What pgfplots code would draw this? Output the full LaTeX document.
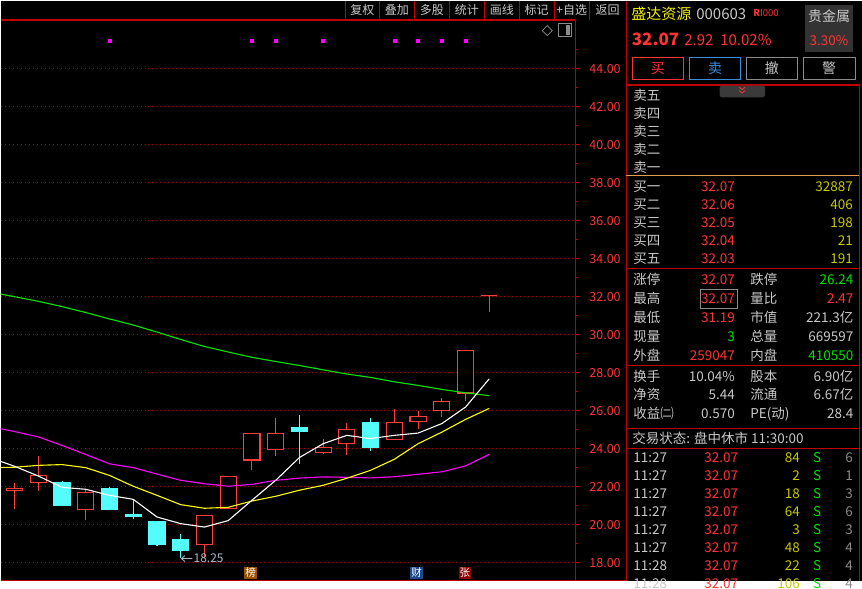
\documentclass[border=0pt]{standalone}
\usepackage{pgfplots}
\pgfplotsset{compat=1.18}
\usepackage{fontspec}
\setmainfont{Noto Sans CJK SC}
\newcommand\fs[1]{\fontsize{#1bp}{#1bp}\selectfont}
\definecolor{lred}{HTML}{C00000}
\definecolor{gridred}{HTML}{B00000}
\definecolor{tred}{HTML}{FF3333}
\definecolor{tgray}{HTML}{C8C8C8}
\definecolor{tgreen}{HTML}{00E000}
\definecolor{tyel}{HTML}{C8C800}
\definecolor{ttitle}{HTML}{F0F000}
\definecolor{ccyan}{HTML}{54FCFC}
\definecolor{cred}{HTML}{FF3C3C}
\definecolor{orange1}{HTML}{E0A050}
\definecolor{btnblue}{HTML}{3C8CDC}
\definecolor{btngray}{HTML}{8A8A8A}
\definecolor{boxgray}{HTML}{333333}
\definecolor{tabgray}{HTML}{3A3A3A}
\definecolor{maG}{HTML}{00E800}
\definecolor{maM}{HTML}{FF00FF}
\definecolor{maY}{HTML}{FFFF00}
\definecolor{tagbrown}{HTML}{9A5200}
\definecolor{tagblue}{HTML}{1C4A8C}
\definecolor{tagred}{HTML}{8C0000}
\definecolor{lowc}{HTML}{A8B8C8}
\pgfplotsset{
  cR/.style={draw=cred, fill=black, line width=1.1bp},
  cC/.style={draw=ccyan, fill=ccyan, line width=1.1bp},
}
\begin{document}
\begin{tikzpicture}
\begin{scope}[x=1bp,y=-1bp]
\useasboundingbox (0,0) rectangle (862,581);
\fill[black] (0,0) rectangle (862,581);
\end{scope}

\begin{axis}[
  at={(0bp,-20bp)}, anchor=north west,
  scale only axis, width=575bp, height=560bp,
  xmin=-0.589, xmax=23.62, ymin=17.068, ymax=46.542,
  axis x line=none, axis y line*=right,
  y axis line style={draw=lred, line width=1.2bp},
  xtick=\empty,
  ytick={18,20,...,44},
  yticklabels={18.00,20.00,22.00,24.00,26.00,28.00,30.00,32.00,34.00,36.00,38.00,40.00,42.00,44.00},
  minor ytick={19,21,...,45},
  tick align=outside, major tick length=5bp, minor tick length=3bp,
  every tick/.style={lred, line width=1bp},
  ymajorgrids,
  major grid style={gridred, line width=0.9bp, dash pattern=on 1bp off 3bp},
  yticklabel style={text=tred, font=\fs{12.5}, anchor=east, xshift=44bp},
  clip=true,
]
% wicks (high, low)
\addplot[cred, line width=1.1bp, unbounded coords=jump] coordinates {
(0,22.21)(0,20.82)(0,nan)
(1,23.63)(1,21.77)(1,nan)
(3,21.81)(3,20.24)(3,nan)
(8,20.47)(8,18.30)(8,nan)
(10,24.79)(10,22.89)(10,nan)
(11,25.63)(11,23.61)(11,nan)
(13,24.49)(13,23.74)(13,nan)
(14,25.33)(14,23.66)(14,nan)
(16,26.07)(16,24.47)(16,nan)
(17,26.00)(17,25.02)(17,nan)
(18,26.65)(18,25.66)(18,nan)
(19,29.15)(19,26.51)(19,nan)
(20,32.07)(20,31.19)};
\addplot[ccyan, line width=1.1bp, unbounded coords=jump] coordinates {
(2,22.29)(2,20.96)(2,nan)
(4,21.96)(4,20.80)(4,nan)
(5,21.32)(5,20.29)(5,nan)
(6,20.19)(6,18.87)(6,nan)
(7,19.49)(7,18.25)(7,nan)
(12,25.75)(12,23.19)(12,nan)
(15,25.59)(15,23.87)};
% bodies (open, close)
\addplot[cR] coordinates {(0,21.81)(0.34,21.81)(0.34,21.89)(-0.34,21.89)(-0.34,21.81)(0,21.81)};
\addplot[cR] coordinates {(1,22.21)(1.34,22.21)(1.34,22.58)(0.66,22.58)(0.66,22.21)(1,22.21)};
\addplot[cC] coordinates {(2,22.23)(2.34,22.23)(2.34,21.03)(1.66,21.03)(1.66,22.23)(2,22.23)};
\addplot[cR] coordinates {(3,20.79)(3.34,20.79)(3.34,21.68)(2.66,21.68)(2.66,20.79)(3,20.79)};
\addplot[cC] coordinates {(4,21.91)(4.34,21.91)(4.34,20.82)(3.66,20.82)(3.66,21.91)(4,21.91)};
\addplot[cC] coordinates {(5,20.53)(5.34,20.53)(5.34,20.45)(4.66,20.45)(4.66,20.53)(5,20.53)};
\addplot[cC] coordinates {(6,20.16)(6.34,20.16)(6.34,18.98)(5.66,18.98)(5.66,20.16)(6,20.16)};
\addplot[cC] coordinates {(7,19.21)(7.34,19.21)(7.34,18.66)(6.66,18.66)(6.66,19.21)(7,19.21)};
\addplot[cR] coordinates {(8,18.95)(8.34,18.95)(8.34,20.47)(7.66,20.47)(7.66,18.95)(8,18.95)};
\addplot[cR] coordinates {(9,20.84)(9.34,20.84)(9.34,22.53)(8.66,22.53)(8.66,20.84)(9,20.84)};
\addplot[cR] coordinates {(10,23.40)(10.34,23.40)(10.34,24.79)(9.66,24.79)(9.66,23.40)(10,23.40)};
\addplot[cR] coordinates {(11,23.95)(11.34,23.95)(11.34,24.79)(10.66,24.79)(10.66,23.95)(11,23.95)};
\addplot[cC] coordinates {(12,25.11)(12.34,25.11)(12.34,24.93)(11.66,24.93)(11.66,25.11)(12,25.11)};
\addplot[cR] coordinates {(13,23.79)(13.34,23.79)(13.34,24.05)(12.66,24.05)(12.66,23.79)(13,23.79)};
\addplot[cR] coordinates {(14,24.26)(14.34,24.26)(14.34,25.00)(13.66,25.00)(13.66,24.26)(14,24.26)};
\addplot[cC] coordinates {(15,25.37)(15.34,25.37)(15.34,24.08)(14.66,24.08)(14.66,25.37)(15,25.37)};
\addplot[cR] coordinates {(16,24.47)(16.34,24.47)(16.34,25.37)(15.66,25.37)(15.66,24.47)(16,24.47)};
\addplot[cR] coordinates {(17,25.42)(17.34,25.42)(17.34,25.68)(16.66,25.68)(16.66,25.42)(17,25.42)};
\addplot[cR] coordinates {(18,26.00)(18.34,26.00)(18.34,26.47)(17.66,26.47)(17.66,26.00)(18,26.00)};
\addplot[cR] coordinates {(19,26.93)(19.34,26.93)(19.34,29.15)(18.66,29.15)(18.66,26.93)(19,26.93)};
\addplot[cR] coordinates {(19.66,32.07)(20.34,32.07)};
% moving averages
\addplot[maG, line width=1.1bp] coordinates {(-1,32.24)(0,32.0)(1,31.76)(2,31.48)(3,31.17)(4,30.83)(5,30.51)(6,30.14)(7,29.75)(8,29.38)(9,29.09)(10,28.81)(11,28.59)(12,28.38)(13,28.15)(14,27.93)(15,27.75)(16,27.52)(17,27.33)(18,27.12)(19,26.94)(20,26.79)};
\addplot[maM, line width=1.1bp] coordinates {(-1,25.15)(0,24.9)(1,24.62)(2,24.17)(3,23.69)(4,23.2)(5,23.0)(6,22.66)(7,22.33)(8,22.15)(9,22.02)(10,22.12)(11,22.33)(12,22.45)(13,22.51)(14,22.49)(15,22.46)(16,22.52)(17,22.65)(18,22.78)(19,23.09)(20,23.7)};
\addplot[maY, line width=1.1bp] coordinates {(-1,23.0)(0,23.02)(1,23.12)(2,23.16)(3,23.0)(4,22.59)(5,22.02)(6,21.54)(7,21.05)(8,20.86)(9,20.91)(10,21.24)(11,21.49)(12,21.81)(13,22.07)(14,22.44)(15,22.86)(16,23.44)(17,24.26)(18,24.87)(19,25.54)(20,26.12)};
\addplot[white, line width=1.1bp] coordinates {(-1,23.51)(0,23.07)(1,22.56)(2,21.96)(3,21.86)(4,21.54)(5,21.33)(6,20.4)(7,20.05)(8,19.87)(9,20.21)(10,21.28)(11,22.33)(12,23.53)(13,24.26)(14,24.7)(15,24.53)(16,24.7)(17,24.82)(18,25.32)(19,26.19)(20,27.68)};
% signal dots
\addplot[only marks, mark=square*, mark size=1.5bp, maM] coordinates {(4,45.47)(10,45.47)(11,45.47)(13,45.47)(16,45.47)(17,45.47)(18,45.47)(19,45.47)};
\end{axis}

\begin{scope}[x=1bp,y=-1bp,
  lw/.style={anchor=base west, inner sep=0, font=\fs{13.5}},
  le/.style={anchor=base east, inner sep=0, font=\fs{13.5}},
  lc/.style={anchor=base, inner sep=0, font=\fs{13.5}}]
% header bar
\foreach \xx in {345,379,414,449,484,519,554,589} \draw[lred,line width=1bp] (\xx,0)--(\xx,19);
\draw[lred,line width=1.2bp] (0,19.3)--(575,19.3);
\foreach \xx/\lab in {362/复权,396.5/叠加,431.5/多股,466.5/统计,501.5/画线,536.5/标记,571.5/+自选,607.5/返回}
  \node[anchor=base,inner sep=0,text=tgray,font=\fs{12}] at (\xx,14) {\lab};
% icons
\draw[btngray,line width=0.8bp] (547,25)--(552,30)--(547,35)--(542,30)--cycle;
\draw[btngray,line width=0.9bp] (558.5,23) rectangle (571.5,36);
\fill[btngray] (566,24.5) rectangle (570,34.5);
% low annotation
\draw[lowc,line width=0.8bp] (192,558.3)--(181,558.3) (184.5,555.3)--(181,558.3)--(184.5,561.3);
\node[anchor=base west,inner sep=0,text=lowc,font=\fs{12}] at (193,562.6) {18.25};
% tags
\node[fill=tagbrown,text=white,inner sep=0,minimum width=12.5bp,minimum height=12bp,font=\fs{10.5}] at (250.3,572.5) {榜};
\node[fill=tagblue,text=white,inner sep=0,minimum width=12.5bp,minimum height=12bp,font=\fs{10.5}] at (416.3,572.5) {财};
\node[fill=tagred,text=white,inner sep=0,minimum width=12.5bp,minimum height=12bp,font=\fs{10.5}] at (464.5,572.5) {张};
\draw[lred,line width=1.2bp] (0,580.3)--(626,580.3);
\draw[lred,line width=1.2bp] (575.3,19.3)--(575.3,581);
% panel frame lines
\draw[lred,line width=1.3bp] (626,0)--(626,581);
\draw[lred,line width=1.2bp] (859.5,84.5)--(859.5,581);
\draw[lred,line width=1.2bp] (626,84.5)--(860,84.5);
\draw[orange1,line width=1bp] (626,175.3)--(859,175.3);
\foreach \yy in {268.3,365,428.3,448.3} \draw[lred,line width=1.2bp] (626,\yy)--(860,\yy);
% title
\node[anchor=base west,inner sep=0,text=ttitle,font=\fs{15}] at (631,18.5) {盛达资源};
\node[anchor=base west,inner sep=0,text=tgray,font=\fs{15}] at (696,18.5) {000603};
\node[anchor=base west,inner sep=0,text=tred,font=\fs{9.5}] at (753,16) {\textbf{R}I000};
\fill[boxgray] (805,4) rectangle (853,51.5);
\node[anchor=base,inner sep=0,text=tgray,font=\fs{14}] at (829,21) {贵金属};
\node[anchor=base,inner sep=0,text=tred,font=\fs{13.5}] at (829,44.5) {3.30\%};
\node[anchor=base west,inner sep=0,text=tred,font=\fs{17}\bfseries] at (631.5,45.2) {32.07};
\node[anchor=base west,inner sep=0,text=tred,font=\fs{15}] at (684,44.5) {2.92};
\node[anchor=base west,inner sep=0,text=tred,font=\fs{15}] at (720,44.5) {10.02\%};
% buttons
\draw[tred,line width=1bp] (632.3,57.3) rectangle (683.3,79);
\draw[btnblue,line width=1bp] (689.3,57.3) rectangle (740.7,79);
\draw[btngray,line width=1bp] (746.3,57.3) rectangle (797.3,79);
\draw[btngray,line width=1bp] (803.3,57.3) rectangle (855,79);
\node[lc,text=tred,font=\fs{14}] at (657.8,73.2) {买};
\node[lc,text=btnblue,font=\fs{14}] at (715,73.2) {卖};
\node[lc,text=tgray,font=\fs{14}] at (771.8,73.2) {撤};
\node[lc,text=tgray,font=\fs{14}] at (829.2,73.2) {警};
% tab
\fill[tabgray,rounded corners=2.5bp] (719.5,85) rectangle (765,96.7);
\draw[tred,line width=0.8bp] (739,86.5)--(742,89)--(745,86.5) (739,90)--(742,92.5)--(745,90);
% asks
\foreach \yy/\lab in {100/卖五,118/卖四,136/卖三,154.3/卖二,172.3/卖一}
  \node[lw,text=tgray] at (633,\yy) {\lab};
% bids
\foreach \yy/\lab/\pp/\vv in {191/买一/32.07/32887,209/买二/32.06/406,226.7/买三/32.05/198,245/买四/32.04/21,262.7/买五/32.03/191}{
  \node[lw,text=tgray] at (633,\yy) {\lab};
  \node[le,text=tred] at (735,\yy) {\pp};
  \node[le,text=tyel] at (853,\yy) {\vv};
}
% stats
\draw[btngray,line width=0.9bp] (700.3,289.3) rectangle (737.7,307.7);
\node[lw,text=tgray] at (633,284) {涨停};   \node[le,text=tred] at (735,284) {32.07};
\node[lw,text=tgray] at (750,284) {跌停};   \node[le,text=tgreen] at (853.5,284) {26.24};
\node[lw,text=tgray] at (633,303.3) {最高}; \node[le,text=tred] at (735,303.3) {32.07};
\node[lw,text=tgray] at (750,303.3) {量比}; \node[le,text=tred] at (853.5,303.3) {2.47};
\node[lw,text=tgray] at (633,322.3) {最低}; \node[le,text=tred] at (735,322.3) {31.19};
\node[lw,text=tgray] at (750,322.3) {市值}; \node[le,text=tgray] at (853.5,322.3) {221.3亿};
\node[lw,text=tgray] at (633,341) {现量};   \node[le,text=tgreen] at (735,341) {3};
\node[lw,text=tgray] at (750,341) {总量};   \node[le,text=tgray] at (853.5,341) {669597};
\node[lw,text=tgray] at (633,360) {外盘};   \node[le,text=tred] at (735,360) {259047};
\node[lw,text=tgray] at (750,360) {内盘};   \node[le,text=tgreen] at (853.5,360) {410550};
\node[lw,text=tgray] at (633,380.7) {换手}; \node[le,text=tgray] at (735,380.7) {10.04\%};
\node[lw,text=tgray] at (750,380.7) {股本}; \node[le,text=tgray] at (853.5,380.7) {6.90亿};
\node[lw,text=tgray] at (633,399.3) {净资}; \node[le,text=tgray] at (735,399.3) {5.44};
\node[lw,text=tgray] at (750,399.3) {流通}; \node[le,text=tgray] at (853.5,399.3) {6.67亿};
\node[lw,text=tgray] at (633,418) {收益㈡}; \node[le,text=tgray] at (735,418) {0.570};
\node[lw,text=tgray] at (750,418) {PE(动)}; \node[le,text=tgray] at (853.5,418) {28.4};
\node[lw,text=tgray] at (632,443.3) {交易状态: 盘中休市 11:30:00};
% ticks
\foreach \yy/\tm/\vv/\nn in {462.3/11:27/84/6,480/11:27/2/1,498.3/11:27/18/3,516/11:27/64/6,534/11:27/3/3,552.3/11:27/48/4,570/11:28/22/4,588/11:28/106/4}{
  \node[lw,text=tgray] at (633,\yy) {\tm};
  \node[le,text=tred] at (738.3,\yy) {32.07};
  \node[le,text=tyel] at (800,\yy) {\vv};
  \node[lc,text=tgreen] at (817,\yy) {S};
  \node[le,text=btngray] at (853,\yy) {\nn};
}
\end{scope}
\end{tikzpicture}
\end{document}
